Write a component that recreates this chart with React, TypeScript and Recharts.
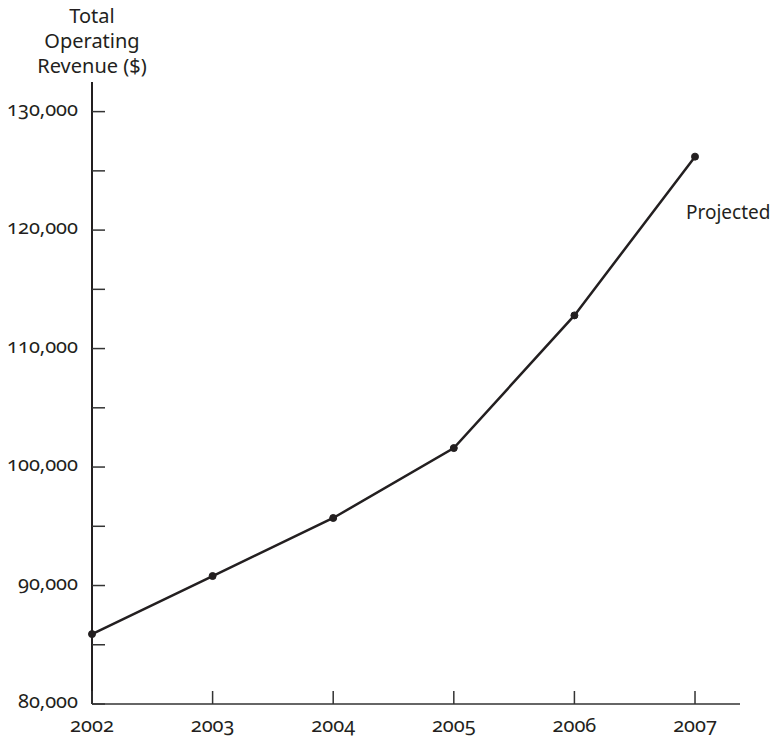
import { LineChart, Line, XAxis, YAxis } from 'recharts';

const years = [2002, 2003, 2004, 2005, 2006, 2007];
const revenue = [85900, 90800, 95700, 101600, 112800, 126200];
const yTicks = [80000, 85000, 90000, 95000, 100000, 105000, 110000, 115000, 120000, 125000, 130000];
const yLabels = [80000, 90000, 100000, 110000, 120000, 130000];
const titleLines = ['Total', 'Operating', 'Revenue ($)'];
const projectedLabel = 'Projected';

const data = years.map((year, i) => ({ year, revenue: revenue[i] }));

const ink = '#231f20';
const font = '"Noto Sans", sans-serif';

const XTick = (props: any) => {
  const { x, y, payload } = props;
  return (
    <g>
      <line x1={x} y1={y} x2={x} y2={y - 13} stroke="#333" strokeWidth={1.5} />
      <text x={x} y={y + 28} textAnchor="middle" fill={ink} fontSize={20} fontFamily={font} style={{ fontVariantNumeric: 'oldstyle-nums' }}>
        {payload.value}
      </text>
    </g>
  );
};

const YTick = (props: any) => {
  const { x, y, payload } = props;
  const labelled = yLabels.includes(payload.value);
  return (
    <g>
      <line x1={x} y1={y} x2={x + 13} y2={y} stroke="#333" strokeWidth={1.5} />
      {labelled && (
        <text x={x - 14} y={y + 4} textAnchor="end" fill={ink} fontSize={20} fontFamily={font} style={{ fontVariantNumeric: 'oldstyle-nums' }}>
          {payload.value.toLocaleString('en-US')}
        </text>
      )}
    </g>
  );
};

const ProjectedLabel = (props: any) => {
  const { x, y, index } = props;
  if (index !== years.length - 1) return null;
  return (
    <text x={x - 9} y={y + 62} fill={ink} fontSize={19} fontFamily={font}>
      {projectedLabel}
    </text>
  );
};

export default function App() {
  return (
    <div style={{ position: 'absolute', left: 0, top: 0, width: 771, height: 739, background: '#fff' }}>
      <div
        style={{
          position: 'absolute',
          left: 2,
          top: 3,
          width: 180,
          textAlign: 'center',
          fontFamily: font,
          fontSize: 20,
          lineHeight: '25px',
          color: ink,
        }}
      >
        {titleLines.map((t) => (
          <div key={t}>{t}</div>
        ))}
      </div>
      <LineChart width={771} height={739} data={data} margin={{ top: 82, right: 31, bottom: 0, left: 0 }}>
        <XAxis
          dataKey="year"
          type="number"
          domain={[2002, 2007.373]}
          ticks={years}
          height={35}
          tickSize={0}
          tickMargin={0}
          tick={<XTick />}
          axisLine={{ stroke: '#333', strokeWidth: 1.5 }}
          interval={0}
        />
        <YAxis
          type="number"
          domain={[80000, 132500]}
          ticks={yTicks}
          width={92}
          tickSize={0}
          tickMargin={0}
          tick={<YTick />}
          axisLine={{ stroke: ink, strokeWidth: 2 }}
          interval={0}
          allowDataOverflow
        />
        <Line
          dataKey="revenue"
          stroke={ink}
          strokeWidth={2.5}
          dot={{ r: 3.5, fill: ink, stroke: ink, strokeWidth: 1 }}
          label={<ProjectedLabel />}
          isAnimationActive={false}
        />
      </LineChart>
    </div>
  );
}
